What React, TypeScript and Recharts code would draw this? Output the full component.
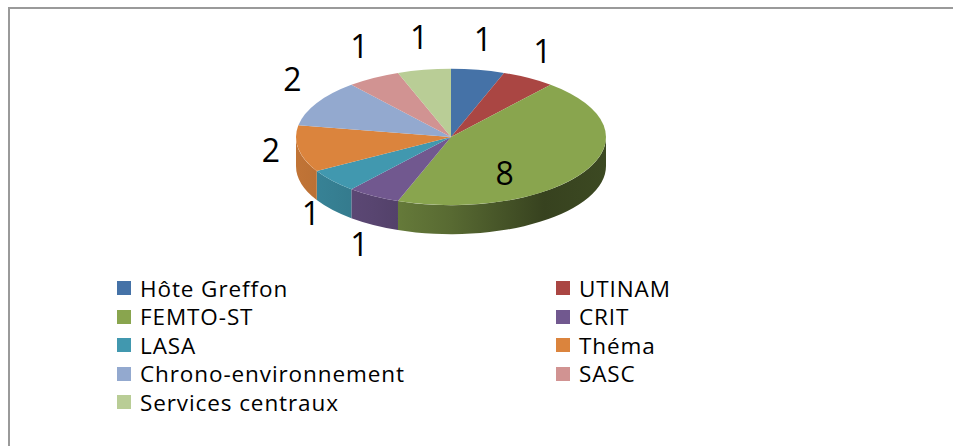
import React from 'react';
import { PieChart, Pie, Cell, Legend } from 'recharts';

const categories = [
  'Hôte Greffon',
  'UTINAM',
  'FEMTO-ST',
  'CRIT',
  'LASA',
  'Théma',
  'Chrono-environnement',
  'SASC',
  'Services centraux',
];
const values = [1, 1, 8, 1, 1, 2, 2, 1, 1];
const colors = ['#4572A7', '#AA4643', '#89A54E', '#71588F', '#4198AF', '#DB843D', '#93A9CF', '#D19392', '#B9CD96'];

const data = categories.map((name, i) => ({ name, value: values[i] }));

const FLAT = 0.44;
const DEPTH = 29;
const FONT = '"Open Sans", "Noto Sans", sans-serif';

function shade(hex: string, k: number) {
  const n = parseInt(hex.slice(1), 16);
  const r = Math.round(((n >> 16) & 255) * k);
  const g = Math.round(((n >> 8) & 255) * k);
  const b = Math.round((n & 255) * k);
  return `rgb(${r},${g},${b})`;
}

function Slice3D(props: any) {
  const { cx, cy, outerRadius, startAngle, endAngle, fill, index } = props;
  const rx = outerRadius;
  const ry = outerRadius * FLAT;
  const pt = (a: number, dy = 0) => {
    const t = (a * Math.PI) / 180;
    return [cx + rx * Math.cos(t), cy - ry * Math.sin(t) + dy];
  };
  const s = Math.max(startAngle, endAngle);
  const e = Math.min(startAngle, endAngle);
  const [x1, y1] = pt(s);
  const [x2, y2] = pt(e);
  const large = s - e > 180 ? 1 : 0;
  const top = `M${cx},${cy} L${x1},${y1} A${rx},${ry} 0 ${large} 1 ${x2},${y2} Z`;
  const segs: number[][] = [];
  for (const base of [-360, 0, 360]) {
    const lo = Math.max(e, base - 180);
    const hi = Math.min(s, base);
    if (hi > lo) segs.push([hi, lo]);
  }
  const gid = `side-grad-${index}`;
  return (
    <g>
      <defs>
        <linearGradient id={gid} gradientUnits="userSpaceOnUse" x1={cx - rx} y1={0} x2={cx + rx} y2={0}>
          <stop offset="0%" stopColor={shade(fill, 0.88)} />
          <stop offset="25%" stopColor={shade(fill, 0.78)} />
          <stop offset="50%" stopColor={shade(fill, 0.64)} />
          <stop offset="80%" stopColor={shade(fill, 0.4)} />
          <stop offset="100%" stopColor={shade(fill, 0.44)} />
        </linearGradient>
      </defs>
      {segs.map(([hi, lo], k) => {
        const [a1x, a1y] = pt(hi);
        const [a2x, a2y] = pt(lo);
        const [b2x, b2y] = pt(lo, DEPTH);
        const [b1x, b1y] = pt(hi, DEPTH);
        const lg = hi - lo > 180 ? 1 : 0;
        const d = `M${a1x},${a1y} A${rx},${ry} 0 ${lg} 1 ${a2x},${a2y} L${b2x},${b2y} A${rx},${ry} 0 ${lg} 0 ${b1x},${b1y} Z`;
        return <path key={k} d={d} fill={`url(#${gid})`} stroke="none" />;
      })}
      <path d={top} fill={fill} stroke="none" />
    </g>
  );
}

const renderLabel = (p: any) => {
  const { cx, cy, midAngle, outerRadius, value, percent } = p;
  const rx = outerRadius;
  const ry = outerRadius * FLAT;
  const t = (midAngle * Math.PI) / 180;
  const c = Math.cos(t);
  const s = Math.sin(t);
  let x: number;
  let y: number;
  if (percent > 0.25) {
    x = cx + rx * 0.4 * c;
    y = cy - ry * 0.4 * s + DEPTH * 0.75;
  } else {
    x = cx + (rx + 28) * c;
    y = cy - (ry + 32) * s + (s < 0 ? DEPTH * -s : 0) - (c < 0 ? 10 * -c : 0);
  }
  return (
    <text
      x={x}
      y={y}
      textAnchor="middle"
      dominantBaseline="central"
      fontSize={32}
      fontFamily={FONT}
      fill="#000"
    >
      {value}
    </text>
  );
};

const renderLegend = (props: any) => {
  const payload = [...(props.payload || [])].sort(
    (a: any, b: any) => categories.indexOf(a.value) - categories.indexOf(b.value)
  );
  return (
    <div style={{ position: 'relative', width: 953, height: 150 }}>
      {payload.map((entry: any, i: number) => {
        const col = i % 2;
        const row = Math.floor(i / 2);
        return (
          <div
            key={`leg-${i}`}
            style={{
              position: 'absolute',
              left: 117 + col * 439,
              top: row * 28.6,
              height: 28,
              display: 'flex',
              alignItems: 'center',
              fontFamily: FONT,
              fontSize: 22.5,
              letterSpacing: 0.9,
              color: '#000',
              whiteSpace: 'nowrap',
            }}
          >
            <span style={{ display: 'inline-block', width: 14, height: 14, background: entry.color, marginRight: 9 }} />
            <span>{entry.value}</span>
          </div>
        );
      })}
    </div>
  );
};

export default function App() {
  return (
    <div style={{ position: 'fixed', left: 0, top: 0, width: 953, height: 446, overflow: 'hidden', background: '#fff' }}>
      <div
        style={{
          position: 'absolute',
          left: 8,
          top: 7,
          width: 980,
          height: 480,
          borderTop: '2px solid #9a9a9a',
          borderLeft: '2px solid #9a9a9a',
        }}
      />
      <div style={{ position: 'absolute', left: 0, top: 0 }}>
        <PieChart width={953} height={446} margin={{ top: 0, right: 0, bottom: 0, left: 0 }}>
          <Pie
            data={data}
            dataKey="value"
            nameKey="name"
            cx={451}
            cy={137}
            outerRadius={155}
            startAngle={90}
            endAngle={-270}
            stroke="none"
            shape={Slice3D}
            label={renderLabel}
            labelLine={false}
            isAnimationActive={false}
          >
            {data.map((d, i) => (
              <Cell key={d.name} fill={colors[i]} />
            ))}
          </Pie>
          <Legend
            content={renderLegend}
            wrapperStyle={{ left: 0, top: 274, width: 953, height: 150 }}
          />
        </PieChart>
      </div>
    </div>
  );
}
